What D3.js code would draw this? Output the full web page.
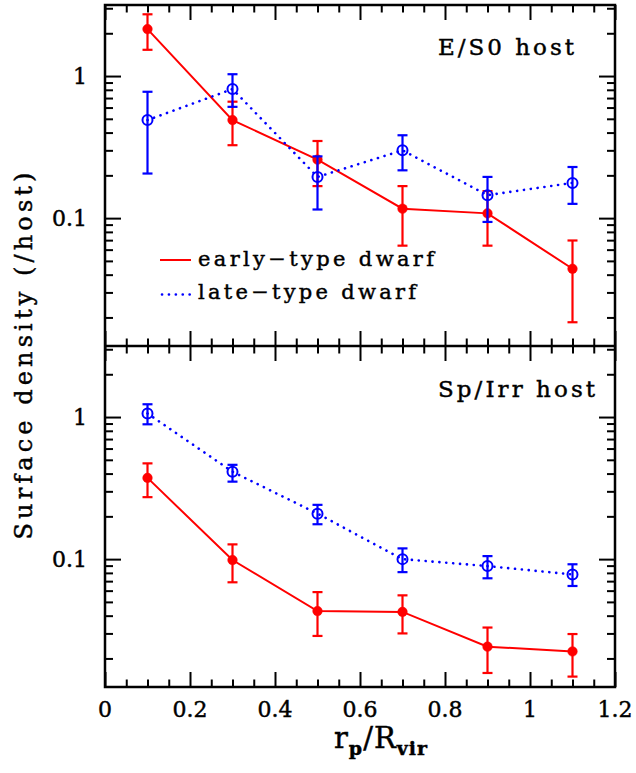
<!DOCTYPE html>
<html><head><meta charset="utf-8">
<script src="https://cdn.jsdelivr.net/npm/d3@7/dist/d3.min.js"></script>
<style>
html,body{margin:0;padding:0;background:#fff;}
svg{display:block;}
text{font-family:"DejaVu Serif",serif;fill:#000;stroke:#000;stroke-width:0.45px;}
</style></head>
<body>
<svg id="chart" width="636" height="773"></svg>
<script>
// ---- data ----
const xVals = [0.1, 0.3, 0.5, 0.7, 0.9, 1.1];
const topEarly   = [2.14, 0.49, 0.258, 0.1165, 0.108, 0.044];
const topEarlyHi = [2.72, 0.66, 0.349, 0.168, 0.155, 0.0696];
const topEarlyLo = [1.53, 0.326, 0.168, 0.064, 0.064, 0.0185];
const topLate    = [0.49, 0.81, 0.195, 0.30, 0.145, 0.177];
const topLateHi  = [0.775, 1.03, 0.272, 0.383, 0.195, 0.229];
const topLateLo  = [0.206, 0.607, 0.115, 0.217, 0.094, 0.126];
const botEarly   = [0.373, 0.0985, 0.0431, 0.0425, 0.0242, 0.0224];
const botEarlyHi = [0.472, 0.127, 0.0586, 0.0556, 0.033, 0.0297];
const botEarlyLo = [0.273, 0.0687, 0.0288, 0.030, 0.0158, 0.0149];
const botLate    = [1.06, 0.412, 0.209, 0.100, 0.0893, 0.078];
const botLateHi  = [1.23, 0.461, 0.241, 0.119, 0.105, 0.092];
const botLateLo  = [0.889, 0.351, 0.176, 0.081, 0.0733, 0.0647];
const xMajorTicks = [0, 0.2, 0.4, 0.6, 0.8, 1, 1.2];
const xTickLabels = ["0", "0.2", "0.4", "0.6", "0.8", "1", "1.2"];
const yMajorTicks = [0.1, 1];
const yTickLabels = ["0.1", "1"];
const panelLabels = ["E/S0 host", "Sp/Irr host"];
const legendLabels = ["early\u2212type dwarf", "late\u2212type dwarf"];

// ---- layout ----
const svg = d3.select("#chart");
const L = 105, R = 615;
const panels = [{top: 5, bottom: 346}, {top: 346, bottom: 687}];
const RED = "#ff0000", BLUE = "#0000ff";
const DOTS = "0.1,6.8";

const x = d3.scaleLinear().domain([0, 1.2]).range([L, R]);
const xMinor = d3.range(0, 1.2001, 0.05).filter(v => Math.abs(v / 0.2 - Math.round(v / 0.2)) > 1e-6);
const yMinor = [];
[0.01, 0.1, 1].forEach(d => { for (let k = 2; k <= 9; k++) yMinor.push(d * k); });

const series = [
  [ {v: topEarly, hi: topEarlyHi, lo: topEarlyLo, c: RED, filled: true, dash: null},
    {v: topLate, hi: topLateHi, lo: topLateLo, c: BLUE, filled: false, dash: DOTS} ],
  [ {v: botEarly, hi: botEarlyHi, lo: botEarlyLo, c: RED, filled: true, dash: null},
    {v: botLate, hi: botLateHi, lo: botLateLo, c: BLUE, filled: false, dash: DOTS} ]
];

panels.forEach((p, pi) => {
  const y = d3.scaleLog().domain([Math.pow(10, -1.9), Math.pow(10, 0.5)]).range([p.bottom, p.top]);
  const yMin = yMinor.filter(v => v >= y.domain()[0] && v <= y.domain()[1]);
  const g = svg.append("g");

  const styleAxis = sel => { sel.select(".domain").remove(); sel.selectAll("line").attr("stroke", "#000").attr("stroke-width", 2); };

  g.append("g").attr("transform", `translate(0,${p.bottom})`)
    .call(d3.axisBottom(x).tickValues(xMajorTicks).tickSize(-15).tickFormat(""))
    .call(styleAxis);
  g.append("g").attr("transform", `translate(0,${p.bottom})`)
    .call(d3.axisBottom(x).tickValues(xMinor).tickSize(-7.5).tickFormat(""))
    .call(styleAxis);
  g.append("g").attr("transform", `translate(0,${p.top})`)
    .call(d3.axisTop(x).tickValues(xMajorTicks).tickSize(-15).tickFormat(""))
    .call(styleAxis);
  g.append("g").attr("transform", `translate(0,${p.top})`)
    .call(d3.axisTop(x).tickValues(xMinor).tickSize(-7.5).tickFormat(""))
    .call(styleAxis);
  g.append("g").attr("transform", `translate(${L},0)`)
    .call(d3.axisLeft(y).tickValues(yMajorTicks).tickSize(-16).tickFormat(""))
    .call(styleAxis);
  g.append("g").attr("transform", `translate(${L},0)`)
    .call(d3.axisLeft(y).tickValues(yMin).tickSize(-8).tickFormat(""))
    .call(styleAxis);
  g.append("g").attr("transform", `translate(${R},0)`)
    .call(d3.axisRight(y).tickValues(yMajorTicks).tickSize(-16).tickFormat(""))
    .call(styleAxis);
  g.append("g").attr("transform", `translate(${R},0)`)
    .call(d3.axisRight(y).tickValues(yMin).tickSize(-8).tickFormat(""))
    .call(styleAxis);

  g.selectAll(".ylab").data(yMajorTicks).enter().append("text")
    .attr("x", 87).attr("y", d => y(d) + 8)
    .attr("text-anchor", "end").attr("font-size", 22)
    .text((d, i) => yTickLabels[i]);

  series[pi].forEach(s => {
    const pts = xVals.map((xv, i) => ({x: xv, v: s.v[i], hi: s.hi[i], lo: s.lo[i]}));
    const line = d3.line().x(d => x(d.x)).y(d => y(d.v));
    g.append("path").datum(pts).attr("d", line)
      .attr("fill", "none").attr("stroke", s.c).attr("stroke-width", s.dash ? 2.6 : 2)
      .attr("stroke-dasharray", s.dash).attr("stroke-linecap", s.dash ? "round" : "butt");
    const eb = g.append("g").attr("stroke", s.c).attr("stroke-width", 2.2).attr("fill", "none");
    eb.selectAll(".v").data(pts).enter().append("line")
      .attr("x1", d => x(d.x)).attr("x2", d => x(d.x))
      .attr("y1", d => y(d.hi)).attr("y2", d => y(d.lo));
    eb.selectAll(".ch").data(pts).enter().append("line")
      .attr("x1", d => x(d.x) - 5).attr("x2", d => x(d.x) + 5)
      .attr("y1", d => y(d.hi)).attr("y2", d => y(d.hi));
    eb.selectAll(".cl").data(pts).enter().append("line")
      .attr("x1", d => x(d.x) - 5).attr("x2", d => x(d.x) + 5)
      .attr("y1", d => y(d.lo)).attr("y2", d => y(d.lo));
    g.selectAll(null).data(pts).enter().append("circle")
      .attr("cx", d => x(d.x)).attr("cy", d => y(d.v))
      .attr("r", s.filled ? 4.8 : 5)
      .attr("fill", s.filled ? s.c : "none")
      .attr("stroke", s.c).attr("stroke-width", s.filled ? 0.5 : 2);
  });

  g.append("text")
    .attr("x", pi === 0 ? 574 : 595).attr("y", pi === 0 ? 55 : 397)
    .attr("text-anchor", "end").attr("font-size", 23)
    .attr("textLength", pi === 0 ? 136 : 157).attr("lengthAdjust", "spacing")
    .text(panelLabels[pi]);
});

svg.append("rect").attr("x", L).attr("y", panels[0].top)
  .attr("width", R - L).attr("height", panels[1].bottom - panels[0].top)
  .attr("fill", "none").attr("stroke", "#000").attr("stroke-width", 2.5);
svg.append("line").attr("x1", L).attr("x2", R).attr("y1", panels[0].bottom).attr("y2", panels[0].bottom)
  .attr("stroke", "#000").attr("stroke-width", 2.5);

svg.selectAll(".xlab").data(xMajorTicks).enter().append("text")
  .attr("x", d => x(d)).attr("y", 717)
  .attr("text-anchor", "middle").attr("font-size", 22)
  .text((d, i) => xTickLabels[i]);

const leg = svg.append("g");
leg.append("line").attr("x1", 160).attr("x2", 191).attr("y1", 260).attr("y2", 260)
  .attr("stroke", RED).attr("stroke-width", 2);
leg.append("line").attr("x1", 162).attr("x2", 191).attr("y1", 294.5).attr("y2", 294.5)
  .attr("stroke", BLUE).attr("stroke-width", 2.6).attr("stroke-dasharray", DOTS).attr("stroke-linecap", "round");
leg.append("text").attr("x", 198).attr("y", 266).attr("font-size", 21)
  .attr("textLength", 236).attr("lengthAdjust", "spacing").text(legendLabels[0]);
leg.append("text").attr("x", 198).attr("y", 299).attr("font-size", 21)
  .attr("textLength", 218).attr("lengthAdjust", "spacing").text(legendLabels[1]);

svg.append("text")
  .attr("transform", "translate(32,356) rotate(-90)")
  .attr("text-anchor", "middle").attr("font-size", 24)
  .attr("textLength", 367).attr("lengthAdjust", "spacing")
  .text("Surface density (/host)");

const xl = svg.append("text").attr("x", 381).attr("y", 748).attr("text-anchor", "middle")
  .attr("font-size", 29).attr("letter-spacing", 1);
xl.append("tspan").text("r");
xl.append("tspan").attr("font-size", 19).attr("font-weight", "bold").attr("dy", 7).text("p");
xl.append("tspan").attr("dy", -7).text("/R");
xl.append("tspan").attr("font-size", 19).attr("font-weight", "bold").attr("dy", 7).text("vir");
</script>
</body></html>
